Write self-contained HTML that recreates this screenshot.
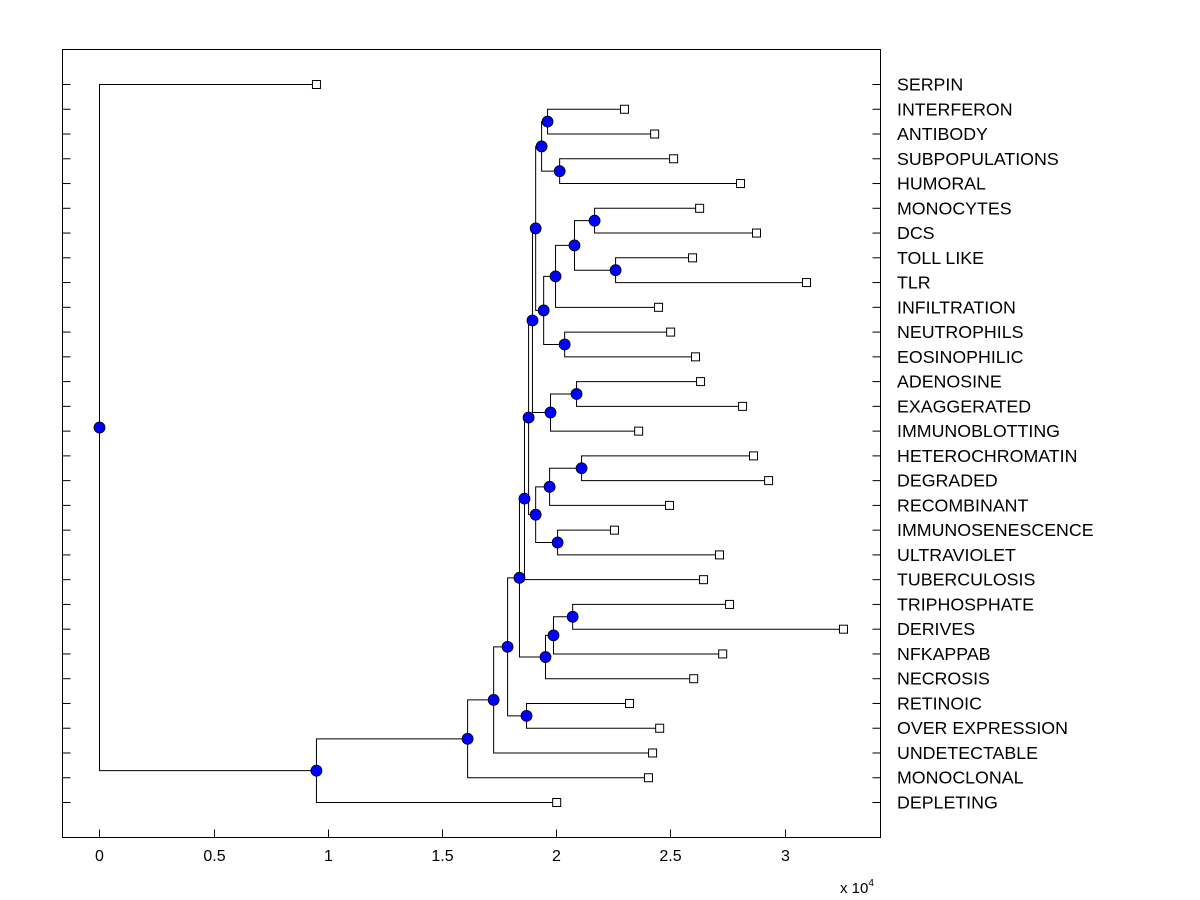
<!DOCTYPE html>
<html><head><meta charset="utf-8"><style>
body{margin:0;background:#fff;}
svg{display:block;font-family:"Liberation Sans",Arial,sans-serif;}
</style></head><body>
<svg id="chart" width="1200" height="900" viewBox="0 0 1200 900" xmlns="http://www.w3.org/2000/svg">
<rect x="0" y="0" width="1200" height="900" fill="#fff"/>
<rect x="62.5" y="49.5" width="818" height="788" fill="#fff" stroke="#000" stroke-width="1"/>
<g id="ticks"></g>
<g id="links"></g>
<g id="marks"></g>
<g id="labels"></g>
<text x="840" y="893" font-size="15">x 10<tspan font-size="10" dy="-7">4</tspan></text>
</svg>
<script>
const leafNames = ["SERPIN","INTERFERON","ANTIBODY","SUBPOPULATIONS","HUMORAL","MONOCYTES","DCS","TOLL LIKE","TLR","INFILTRATION","NEUTROPHILS","EOSINOPHILIC","ADENOSINE","EXAGGERATED","IMMUNOBLOTTING","HETEROCHROMATIN","DEGRADED","RECOMBINANT","IMMUNOSENESCENCE","ULTRAVIOLET","TUBERCULOSIS","TRIPHOSPHATE","DERIVES","NFKAPPAB","NECROSIS","RETINOIC","OVER EXPRESSION","UNDETECTABLE","MONOCLONAL","DEPLETING"];
const leafValues = [0.950,2.299,2.431,2.514,2.807,2.628,2.877,2.597,3.096,2.448,2.501,2.610,2.632,2.816,2.361,2.864,2.930,2.496,2.255,2.715,2.645,2.759,3.258,2.729,2.602,2.321,2.453,2.422,2.404,2.002];
// internal nodes: ids 30.. ; children reference leaf index (<30) or node id
const nodeLeft  = [1,3,30,5,7,33,35,10,36,32,12,40,39,15,43,18,44,42,47,21,49,50,48,25,52,54,55,56,0];
const nodeRight = [2,4,31,6,8,34,9,11,37,38,13,14,41,16,17,19,45,46,20,22,23,24,51,26,53,27,28,29,57];
const nodeValues = [1.962,2.015,1.936,2.168,2.260,2.080,1.997,2.037,1.945,1.910,2.089,1.975,1.896,2.111,1.971,2.006,1.910,1.879,1.861,2.072,1.988,1.953,1.839,1.870,1.787,1.726,1.612,0.950,0];
const xTickValues = [0,0.5,1,1.5,2,2.5,3];
const xTickLabels = ["0","0.5","1","1.5","2","2.5","3"];

const NS="http://www.w3.org/2000/svg";
const X0=62.5, X1=880.5, Y0=49.5, Y1=837.5;
const xMin=-0.162, xMax=3.42;
function xs(v){return X0+(v-xMin)/(xMax-xMin)*(X1-X0);}
function ys(i){return 84.5+i*(802-84)/(leafNames.length-1);}
function mk(tag,attrs,parent){const e=document.createElementNS(NS,tag);for(const k in attrs)e.setAttribute(k,attrs[k]);parent.appendChild(e);return e;}

const gT=document.getElementById('ticks'),gL=document.getElementById('links'),gM=document.getElementById('marks'),gLab=document.getElementById('labels');
const N=leafNames.length;
const pos={};
leafNames.forEach((n,i)=>{pos[i]={x:xs(leafValues[i]),y:ys(i)};});
nodeValues.forEach((v,k)=>{
  const id=N+k, a=pos[nodeLeft[k]], b=pos[nodeRight[k]];
  pos[id]={x:xs(v),y:(a.y+b.y)/2};
});
leafNames.forEach((n,i)=>{
  const y=ys(i);
  const t1=mk('line',{x1:X0,y1:y,x2:X0+8,y2:y,stroke:'#000','stroke-width':1},gT);
  
  
  const t2=mk('line',{x1:X1-8,y1:y,x2:X1,y2:y,stroke:'#000','stroke-width':1},gT);
  
  
  const lab=mk('text',{x:897,y:y+6,'font-size':17.8,fill:'#000'},gLab);
  lab.textContent=n;
  
  
});
xTickValues.forEach((v,i)=>{
  const x=Math.round(xs(v))+0.5;
  const t=mk('line',{x1:x,y1:Y1,x2:x,y2:Y1-8,stroke:'#000','stroke-width':1},gT);
  
  
  const lab=mk('text',{x:x,y:861,'font-size':16,'text-anchor':'middle',fill:'#000'},gLab);
  lab.textContent=xTickLabels[i];
  
  
});
nodeValues.forEach((v,k)=>{
  const p=pos[N+k];
  [nodeLeft[k],nodeRight[k]].forEach(c=>{
    const q=pos[c];
    const l=mk('polyline',{points:`${p.x},${p.y} ${p.x},${q.y} ${q.x},${q.y}`,fill:'none',stroke:'#000','stroke-width':1},gL);
    
    
  });
});
leafNames.forEach((n,i)=>{
  const p=pos[i];
  const s=mk('rect',{x:p.x-4,y:p.y-4,width:8,height:8,fill:'#fff',stroke:'#000','stroke-width':1},gM);
  
  
});
nodeValues.forEach((v,k)=>{
  const p=pos[N+k];
  const c=mk('circle',{cx:p.x,cy:p.y,r:5.5,fill:'#0000ff',stroke:'#000','stroke-width':0.8},gM);
  
  
});
</script>
</body></html>
